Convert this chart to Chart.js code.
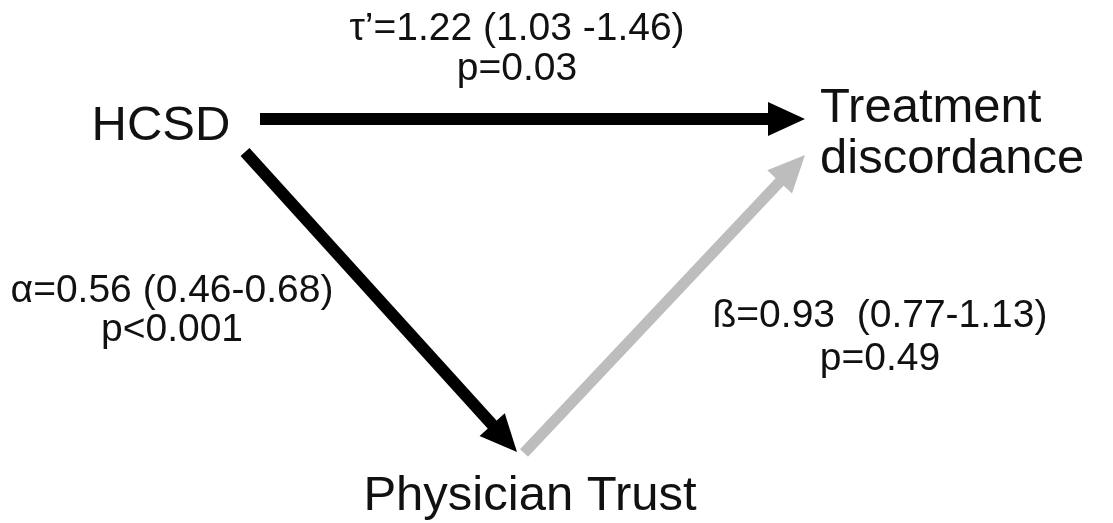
<!DOCTYPE html>
<html>
<head>
<meta charset="utf-8">
<script src="https://cdn.jsdelivr.net/npm/chart.js@4.4.1/dist/chart.umd.min.js"></script>
<style>
  html, body { margin: 0; padding: 0; background: #fff; }
  canvas { display: block; }
</style>
</head>
<body>
<canvas id="diagram" width="1113" height="523"></canvas>
<script>
// mediation model: HCSD -> Treatment discordance, mediated by Physician Trust
var nodeLines   = [['HCSD'], ['Treatment', 'discordance'], ['Physician Trust']];
var pathFrom    = [0, 0, 2];
var pathTo      = [1, 2, 1];
var estimates   = ['τ’=1.22 (1.03 -1.46)', 'α=0.56 (0.46-0.68)', 'ß=0.93  (0.77-1.13)'];
var pLabels     = ['p=0.03', 'p<0.001', 'p=0.49'];
var significant = [true, true, false];

// arrow tails / tips in diagram units (same as scale units)
var tailX = [260, 245, 524];
var tailY = [119, 152, 453];
var tipX  = [805, 517, 805];
var tipY  = [119, 452, 155];

// where the text sits (diagram units)
var nodeAnchor = [
  {x: 161, y: 140, align: 'center', step: 0},
  {x: 820, y: 122, align: 'left', step: 51},
  {x: 530, y: 510, align: 'center', step: 0}
];
var pathAnchor = [
  {x: 517, y: 40, step: 40},
  {x: 172, y: 302, step: 39},
  {x: 880, y: 327, step: 43}
];

var headLen = 37, headWid = 34;
var FONT = '"Liberation Sans", Arial, Helvetica, sans-serif';

var datasets = pathFrom.map(function(f, i){
  var dx = tipX[i] - tailX[i], dy = tipY[i] - tailY[i];
  var len = Math.sqrt(dx*dx + dy*dy);
  var back = headLen - 4;
  return {
    label: nodeLines[f].join(' ') + ' → ' + nodeLines[pathTo[i]].join(' '),
    data: [{x: tailX[i], y: tailY[i]}, {x: tipX[i] - dx/len*back, y: tipY[i] - dy/len*back}],
    tip: {x: tipX[i], y: tipY[i]},
    showLine: true,
    borderColor: significant[i] ? '#000' : '#bdbdbd',
    borderWidth: significant[i] ? 12 : 11,
    borderCapStyle: 'butt',
    pointRadius: 0,
    clip: false
  };
});

var arrowHeads = {
  id: 'arrowHeads',
  afterDatasetsDraw: function(chart){
    var ctx = chart.ctx, sx = chart.scales.x, sy = chart.scales.y;
    chart.data.datasets.forEach(function(ds, i){
      var p0 = chart.getDatasetMeta(i).data[0];
      var tx = sx.getPixelForValue(ds.tip.x), ty = sy.getPixelForValue(ds.tip.y);
      var a = Math.atan2(ty - p0.y, tx - p0.x);
      ctx.save();
      ctx.translate(tx, ty);
      ctx.rotate(a);
      ctx.beginPath();
      ctx.moveTo(0, 0);
      ctx.lineTo(-headLen, -headWid/2);
      ctx.lineTo(-headLen, headWid/2);
      ctx.closePath();
      ctx.fillStyle = ds.borderColor;
      ctx.fill();
      ctx.restore();
    });
  }
};

var diagramText = {
  id: 'diagramText',
  afterDraw: function(chart){
    var ctx = chart.ctx, sx = chart.scales.x, sy = chart.scales.y;
    ctx.save();
    ctx.fillStyle = '#111';
    ctx.textBaseline = 'alphabetic';
    ctx.font = '49px ' + FONT;
    nodeLines.forEach(function(lines, i){
      var an = nodeAnchor[i];
      ctx.textAlign = an.align;
      lines.forEach(function(t, k){
        ctx.fillText(t, sx.getPixelForValue(an.x), sy.getPixelForValue(an.y + k*an.step));
      });
    });
    ctx.font = '39px ' + FONT;
    ctx.textAlign = 'center';
    estimates.forEach(function(t, i){
      var an = pathAnchor[i];
      ctx.fillText(t, sx.getPixelForValue(an.x), sy.getPixelForValue(an.y));
      ctx.fillText(pLabels[i], sx.getPixelForValue(an.x), sy.getPixelForValue(an.y + an.step));
    });
    ctx.restore();
  }
};

new Chart(document.getElementById('diagram'), {
  type: 'scatter',
  data: {datasets: datasets},
  options: {
    responsive: false,
    animation: false,
    devicePixelRatio: 1,
    layout: {padding: 0},
    scales: {
      x: {type: 'linear', min: 0, max: 1113, display: false},
      y: {type: 'linear', min: 0, max: 523, reverse: true, display: false}
    },
    plugins: {legend: {display: false}, tooltip: {enabled: false}}
  },
  plugins: [arrowHeads, diagramText]
});
</script>
</body>
</html>
